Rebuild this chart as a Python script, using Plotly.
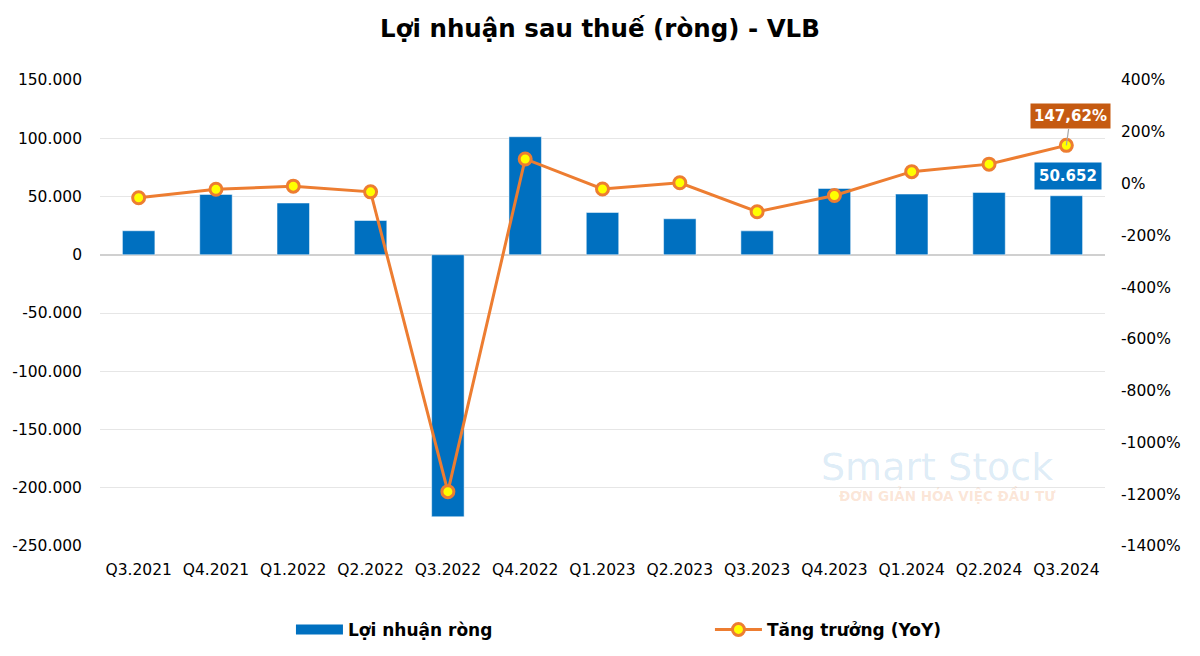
import plotly.graph_objects as go

categories = ["Q3.2021", "Q4.2021", "Q1.2022", "Q2.2022", "Q3.2022", "Q4.2022",
              "Q1.2023", "Q2.2023", "Q3.2023", "Q4.2023", "Q1.2024", "Q2.2024", "Q3.2024"]
loi_nhuan = [20600, 51800, 44400, 29400, -224900, 101300,
             36300, 30900, 20500, 56900, 52100, 53500, 50652]
tang_truong = [-55, -22, -10, -32, -1190, 95,
               -21, 3, -109, -46, 46, 75, 147.62]

left_ticks = [-250000, -200000, -150000, -100000, -50000, 0, 50000, 100000, 150000]
left_labels = [f"{v:,}".replace(",", ".") for v in left_ticks]
right_ticks = list(range(-1400, 401, 200))
right_labels = [f"{v}%" for v in right_ticks]

FONT = "DejaVu Sans"
BLUE = "#0070C0"
ORANGE = "#ED7D31"

W, H = 1184, 640
L, R, T, B = 92, 87, 72, 102

fig = go.Figure()
fig.add_trace(go.Bar(
    x=categories, y=loi_nhuan, name="Lợi nhuận ròng",
    marker=dict(color=BLUE), yaxis="y", showlegend=False,
))
# legend-only entry to show the wide blue swatch
fig.add_trace(go.Scatter(
    x=[None], y=[None], name="<b>Lợi nhuận ròng</b>", mode="lines",
    line=dict(color=BLUE, width=12), yaxis="y", hoverinfo="skip",
))
fig.add_trace(go.Scatter(
    x=categories, y=tang_truong, name="<b>Tăng trưởng (YoY)</b>", yaxis="y2",
    mode="lines+markers",
    line=dict(color=ORANGE, width=3),
    marker=dict(color="#FFFF00", size=12, line=dict(color=ORANGE, width=3)),
))

# data labels for last point
fig.add_annotation(
    x=categories[-1], y=tang_truong[-1], xref="x", yref="y2",
    text="<b>147,62%</b>", showarrow=True, arrowhead=0, arrowwidth=1.2,
    arrowcolor="#A6A6A6", ax=4, ay=-29,
    bgcolor="#C55A11", font=dict(color="white", size=15, family=FONT),
    borderpad=3,
)
fig.add_annotation(
    x=categories[-1], y=loi_nhuan[-1], xref="x", yref="y",
    text="<b>50.652</b>", showarrow=False, yanchor="bottom", yshift=6, xshift=2,
    bgcolor=BLUE, font=dict(color="white", size=15, family=FONT),
    borderpad=4,
)

# watermark
fig.add_annotation(
    x=0.95, y=0.118, xref="paper", yref="paper", xanchor="right",
    text="Smart Stock", showarrow=False,
    font=dict(color="rgba(0,112,192,0.14)", size=38, family=FONT),
)
fig.add_annotation(
    x=0.953, y=0.085, xref="paper", yref="paper",
    text="<b>ĐƠN GIẢN HÓA VIỆC ĐẦU TƯ</b>", showarrow=False,
    font=dict(color="rgba(237,125,49,0.2)", size=13.5, family=FONT),
)

fig.update_layout(
    width=W, height=H,
    template="plotly_white",
    paper_bgcolor="white", plot_bgcolor="white",
    font=dict(family=FONT, size=15.5, color="#000000"),
    title=dict(text="<b>Lợi nhuận sau thuế (ròng) - VLB</b>", x=0.5, xanchor="center",
               y=1 - 20 / H, yanchor="middle", font=dict(size=24.5, family=FONT, color="#000")),
    margin=dict(l=L, r=R, t=T, b=B, autoexpand=False),
    bargap=0.58,
    xaxis=dict(range=[-0.5, len(categories) - 0.5], showgrid=False, showline=False,
               ticks="", tickfont=dict(size=15.5), ticklabelstandoff=12, automargin=False),
    yaxis=dict(range=[-250000, 150000], tickvals=left_ticks, ticktext=left_labels,
               showgrid=True, gridcolor="#E6E6E6", gridwidth=1,
               zeroline=True, zerolinecolor="#D0D0D0", zerolinewidth=1.5,
               ticklabelstandoff=17, tickfont=dict(size=15.5), automargin=False),
    yaxis2=dict(range=[-1400, 400], tickvals=right_ticks, ticktext=right_labels,
                overlaying="y", side="right", showgrid=False, zeroline=False,
                ticklabelstandoff=15, tickfont=dict(size=15.5), automargin=False),
    legend=dict(orientation="h", x=0.19, xanchor="left", y=-0.18, yanchor="middle",
                font=dict(size=17, family=FONT), entrywidth=357, itemwidth=47,
                traceorder="normal"),
    showlegend=True,
)

fig.write_html("out.html")
